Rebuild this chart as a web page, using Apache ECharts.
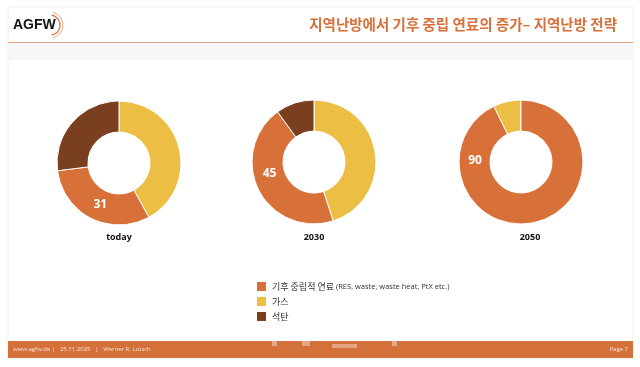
<!DOCTYPE html>
<html><head><meta charset="utf-8">
<script src="https://cdn.jsdelivr.net/npm/echarts@6/dist/echarts.min.js"></script>
<style>html,body{margin:0;padding:0;background:#fff}#c{width:640px;height:367px}</style>
</head><body><div id="c"></div>
<script>
const years = ['today', '2030', '2050'];
const renewable = [31, 45, 90];
const gas = [42, 45, 7];
const coal = [27, 10, 0];
const seriesNames = ['기후 중립적 연료', '가스', '석탄'];
const legendNote = '(RES, waste, waste heat, PtX etc.)';
const titleText = '지역난방에서 기후 중립 연료의 증가– 지역난방 전략';
const footerLeft = 'www.agfw.de |   25.11.2025   |   Werner R. Lutsch';
const footerRight = 'Page 7';

const COLORS = {'기후 중립적 연료': '#D8703A', '가스': '#ECBE44', '석탄': '#7A3F1E'};
const centers = [[119, 163], [314, 162], [521, 162]];
const startAngles = [90, 90, 116];
const labelAngles = [204, 255, 272];
const labelX = [119, 314, 530];
const R_IN = 31, R_OUT = 62, R_LAB = 46;

const chart = echarts.init(document.getElementById('c'), null, {renderer: 'canvas'});

const series = years.map((y, i) => {
  const vals = [gas[i], renewable[i], coal[i]];
  const names = [seriesNames[1], seriesNames[0], seriesNames[2]];
  const data = names.map((n, k) => ({
    name: n, value: vals[k],
    itemStyle: {color: COLORS[n]},
    label: {show: n === seriesNames[0]}
  })).filter(d => d.value > 0);
  return {
    type: 'pie', name: y, center: centers[i], radius: [R_IN, R_OUT],
    startAngle: startAngles[i], clockwise: true, animation: false,
    avoidLabelOverlap: false, silent: true,
    itemStyle: {borderColor: '#ffffff', borderWidth: 1},
    label: {position: 'inside', formatter: '{c}', color: '#ffffff', fontSize: 12,
            fontWeight: 'bold', fontFamily: 'Open Sans'},
    labelLine: {show: false},
    labelLayout: function () {
      const a = labelAngles[i] * Math.PI / 180;
      return {x: centers[i][0] + R_LAB * Math.sin(a), y: centers[i][1] - R_LAB * Math.cos(a),
              align: 'center', verticalAlign: 'middle'};
    },
    data: data
  };
});

const graphic = [
  {type: 'rect', shape: {x: 8, y: 7, width: 625, height: 352}, style: {fill: '#ffffff', stroke: '#eeeeee', lineWidth: 1}, z: 0},
  {type: 'rect', shape: {x: 9, y: 43, width: 623, height: 17}, style: {fill: '#f7f7f9'}, z: 1},
  {type: 'line', shape: {x1: 8, y1: 42.5, x2: 633, y2: 42.5}, style: {stroke: '#E2A47E', lineWidth: 1}, z: 2},
  {type: 'text', left: 13, top: 18, style: {text: 'AGFW', font: 'bold 14px Liberation Sans', fill: '#111111'}, z: 3},
  {type: 'arc', shape: {cx: 50, cy: 25, r: 10, startAngle: -Math.PI * 0.45, endAngle: Math.PI * 0.45}, style: {stroke: '#D8703A', lineWidth: 1.2, fill: null}, z: 3},
  {type: 'arc', shape: {cx: 50, cy: 25, r: 13, startAngle: -Math.PI * 0.42, endAngle: Math.PI * 0.42}, style: {stroke: '#E6A97E', lineWidth: 1, fill: null}, z: 3},
  {type: 'rect', shape: {x: 8, y: 341, width: 625, height: 17}, style: {fill: '#D4703A'}, z: 2},
  {type: 'rect', shape: {x: 272, y: 341, width: 5, height: 5}, style: {fill: '#E6A582'}, z: 3},
  {type: 'rect', shape: {x: 302, y: 341, width: 8, height: 5}, style: {fill: '#E6A582'}, z: 3},
  {type: 'rect', shape: {x: 332, y: 344, width: 25, height: 4}, style: {fill: '#E6A582'}, z: 3},
  {type: 'rect', shape: {x: 392, y: 341, width: 5, height: 5}, style: {fill: '#E6A582'}, z: 3},
  {type: 'text', left: 13, top: 346, style: {text: footerLeft, font: '6px Open Sans', fill: '#fbe3d6'}, z: 4},
  {type: 'text', right: 12, top: 346, style: {text: footerRight, font: '6px Open Sans', fill: '#fbe3d6'}, z: 4}
];
years.forEach((y, i) => {
  graphic.push({type: 'text', x: labelX[i], y: 237,
    style: {text: y, font: 'bold 9px Open Sans', fill: '#111111', textAlign: 'center', textVerticalAlign: 'middle'}, z: 5});
});

chart.setOption({
  animation: false,
  backgroundColor: '#ffffff',
  title: {text: titleText, right: 18, top: 12,
          textStyle: {color: '#D8703A', fontSize: 14.5, fontWeight: 'bold', fontFamily: 'Noto Sans CJK KR'}},
  legend: {
    orient: 'vertical', left: 250, top: 275, itemWidth: 11, itemHeight: 11, itemGap: 2,
    selectedMode: false, icon: 'rect', padding: [5, 5, 5, 5],
    data: seriesNames.map(n => ({name: n, itemStyle: {color: COLORS[n]}})),
    formatter: function (n) { return n === seriesNames[0] ? '{a|' + n + '} {b|' + legendNote + '}' : '{a|' + n + '}'; },
    textStyle: {color: '#333333', fontSize: 9, fontFamily: 'Noto Sans CJK KR', lineHeight: 11, height: 11,
      rich: {a: {fontSize: 9, lineHeight: 11, height: 11, color: '#333333', fontFamily: 'Noto Sans CJK KR'},
             b: {fontSize: 7.5, lineHeight: 11, height: 11, color: '#333333', fontFamily: 'Open Sans'}}}
  },
  graphic: graphic,
  series: series
});
</script></body></html>
